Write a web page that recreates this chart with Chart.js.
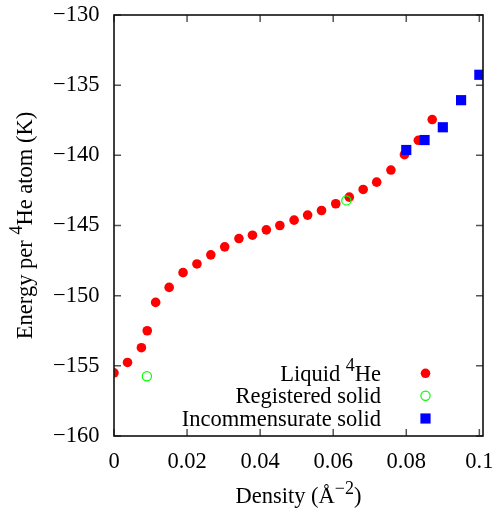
<!DOCTYPE html>
<html>
<head>
<meta charset="utf-8">
<script src="https://cdn.jsdelivr.net/npm/chart.js@4.4.1/dist/chart.umd.min.js"></script>
<style>
  html, body { margin: 0; padding: 0; background: #ffffff; }
  #wrap { width: 498px; height: 508px; }
</style>
</head>
<body>
<div id="wrap"><canvas id="c" width="498" height="508"></canvas></div>
<script>
// Energy per 4He atom versus areal density
const liquidDensity = [0.0, 0.0037, 0.0075, 0.0091, 0.0114, 0.0151, 0.0189, 0.0227, 0.0265,
  0.0303, 0.0342, 0.0379, 0.0417, 0.0454, 0.0493, 0.0530, 0.0568, 0.0607, 0.0644,
  0.0682, 0.0719, 0.0758, 0.0795, 0.0833, 0.0871];
const liquidEnergy = [-155.50, -154.76, -153.71, -152.50, -150.48, -149.41, -148.36, -147.74, -147.09,
  -146.52, -145.93, -145.69, -145.31, -145.00, -144.62, -144.26, -143.93, -143.45, -142.98,
  -142.43, -141.91, -141.05, -139.95, -138.93, -137.45];

const registeredDensity = [0.0090, 0.0636];
const registeredEnergy = [-155.74, -143.21];

const incommDensity = [0.080, 0.085, 0.090, 0.095, 0.100];
const incommEnergy = [-139.62, -138.91, -138.00, -136.07, -134.26];

const xTicks = [0, 0.02, 0.04, 0.06, 0.08, 0.1];
const xTickLabels = ['0', '0.02', '0.04', '0.06', '0.08', '0.1'];
const yTicks = [-160, -155, -150, -145, -140, -135, -130];

const seriesLabels = ['Liquid ^4He', 'Registered solid', 'Incommensurate solid'];
const xTitle = 'Density (\u00C5^{\u22122})';
const yTitle = 'Energy per ^4He atom (K)';

const FONT = '"Liberation Serif", "Times New Roman", serif';
const FSIZE = 22.5;

function toPoints(xs, ys) { return xs.map((x, i) => ({ x: x, y: ys[i] })); }

// split "abc ^{xy} def" / "^4" into plain and superscript runs
function parseRich(s) {
  const segs = []; let buf = ''; let i = 0;
  while (i < s.length) {
    if (s[i] === '^') {
      if (buf) { segs.push({ t: buf, sup: false }); buf = ''; }
      if (s[i + 1] === '{') { const j = s.indexOf('}', i); segs.push({ t: s.slice(i + 2, j), sup: true }); i = j + 1; }
      else { segs.push({ t: s[i + 1], sup: true }); i += 2; }
    } else { buf += s[i]; i++; }
  }
  if (buf) segs.push({ t: buf, sup: false });
  return segs;
}

function drawRich(ctx, s, x, y, align, size) {
  const segs = parseRich(s);
  const nf = size + 'px ' + FONT, sf = (size * 0.8) + 'px ' + FONT;
  let total = 0;
  segs.forEach(g => { ctx.font = g.sup ? sf : nf; g.w = ctx.measureText(g.t).width; total += g.w; });
  let cx = align === 'right' ? x - total : align === 'center' ? x - total / 2 : x;
  ctx.textAlign = 'left'; ctx.textBaseline = 'alphabetic';
  segs.forEach(g => {
    ctx.font = g.sup ? sf : nf;
    ctx.fillText(g.t, cx, g.sup ? y - size * 0.42 : y);
    cx += g.w;
  });
}

function drawMarker(ctx, style, x, y, r, fill, stroke, lw) {
  ctx.save();
  ctx.beginPath();
  if (style === 'rect') {
    const h = r * Math.SQRT1_2;
    ctx.rect(x - h, y - h, 2 * h, 2 * h);
  } else {
    ctx.arc(x, y, r, 0, Math.PI * 2);
  }
  if (fill) { ctx.fillStyle = fill; ctx.fill(); }
  if (stroke) { ctx.strokeStyle = stroke; ctx.lineWidth = lw; ctx.stroke(); }
  ctx.restore();
}

// frame, inward mirrored ticks, axis titles and key
const framePlugin = {
  id: 'frame',
  afterDraw(chart) {
    const ctx = chart.ctx, a = chart.chartArea;
    const xs = chart.scales.x, ys = chart.scales.y;
    ctx.save();
    ctx.strokeStyle = '#555555'; ctx.lineWidth = 1.5;
    const tl = 7;
    ctx.beginPath();
    xTicks.forEach(v => {
      const px = xs.getPixelForValue(v);
      ctx.moveTo(px, a.bottom); ctx.lineTo(px, a.bottom - tl);
      ctx.moveTo(px, a.top); ctx.lineTo(px, a.top + tl);
    });
    yTicks.forEach(v => {
      const py = ys.getPixelForValue(v);
      ctx.moveTo(a.left, py); ctx.lineTo(a.left + tl, py);
      ctx.moveTo(a.right, py); ctx.lineTo(a.right - tl, py);
    });
    ctx.stroke();
    ctx.strokeStyle = '#111111'; ctx.lineWidth = 1.6;
    ctx.strokeRect(a.left, a.top, a.right - a.left, a.bottom - a.top);

    ctx.fillStyle = '#000000';
    drawRich(ctx, xTitle, (a.left + a.right) / 2, 503, 'center', FSIZE);
    ctx.save();
    ctx.translate(31.5, (a.top + a.bottom) / 2);
    ctx.rotate(-Math.PI / 2);
    drawRich(ctx, yTitle, 0, 0, 'center', FSIZE);
    ctx.restore();

    // key, lower right
    const rows = [373.3, 395.8, 418.5];
    const textRight = 381, markX = 425.5;
    chart.data.datasets.forEach((ds, i) => {
      ctx.fillStyle = '#000000';
      drawRich(ctx, seriesLabels[i], textRight, rows[i] + 7.5, 'right', FSIZE);
      drawMarker(ctx, ds.pointStyle, markX, rows[i], ds.pointRadius,
        ds.pointBackgroundColor, ds.pointBorderWidth ? ds.pointBorderColor : null, ds.pointBorderWidth);
    });
    ctx.restore();
  }
};

new Chart(document.getElementById('c'), {
  type: 'scatter',
  data: {
    datasets: [
      { label: seriesLabels[0], data: toPoints(liquidDensity, liquidEnergy), order: 3,
        pointStyle: 'circle', pointRadius: 4.8, pointBackgroundColor: '#ff0000',
        pointBorderColor: '#ff0000', pointBorderWidth: 0 },
      { label: seriesLabels[1], data: toPoints(registeredDensity, registeredEnergy), order: 2,
        pointStyle: 'circle', pointRadius: 4.6, pointBackgroundColor: 'rgba(0,0,0,0)',
        pointBorderColor: '#00ff00', pointBorderWidth: 1.2 },
      { label: seriesLabels[2], data: toPoints(incommDensity, incommEnergy), order: 1,
        pointStyle: 'rect', pointRadius: 7.2, pointBackgroundColor: '#0000ff',
        pointBorderColor: '#0000ff', pointBorderWidth: 0 }
    ]
  },
  options: {
    responsive: false,
    animation: false,
    devicePixelRatio: 1,
    layout: { padding: { left: 0, top: 15, right: 15, bottom: 0 } },
    plugins: { legend: { display: false }, tooltip: { enabled: false } },
    elements: { point: { hoverRadius: 0 } },
    scales: {
      x: {
        type: 'linear', min: 0, max: 0.101,
        afterBuildTicks: s => { s.ticks = xTicks.map(v => ({ value: v })); },
        afterFit: s => { s.height = 72; s.paddingLeft = 0; s.paddingRight = 0; },
        grid: { display: false, drawTicks: false },
        border: { display: false },
        ticks: {
          padding: 13, color: '#000000', maxRotation: 0, autoSkip: false,
          font: { family: FONT, size: FSIZE },
          callback: (v) => { const k = xTicks.findIndex(t => Math.abs(t - v) < 1e-9); return k >= 0 ? xTickLabels[k] : ''; }
        }
      },
      y: {
        type: 'linear', min: -160, max: -130,
        afterBuildTicks: s => { s.ticks = yTicks.map(v => ({ value: v })); },
        afterFit: s => { s.width = 114; s.paddingTop = 0; s.paddingBottom = 0; },
        grid: { display: false, drawTicks: false },
        border: { display: false },
        ticks: {
          padding: 14.5, color: '#000000', autoSkip: false,
          font: { family: FONT, size: FSIZE },
          callback: (v) => (v < 0 ? '\u2212' + Math.abs(v) : String(v))
        }
      }
    }
  },
  plugins: [framePlugin]
});
</script>
</body>
</html>
